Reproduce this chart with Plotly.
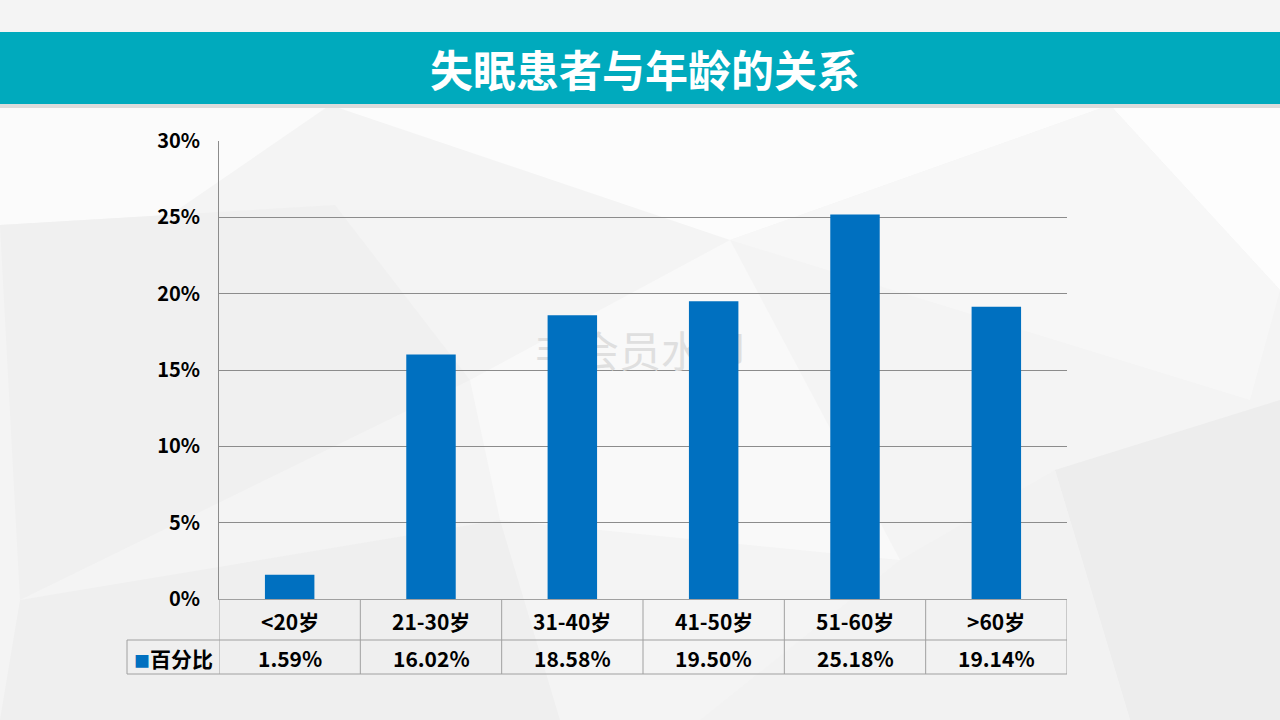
import plotly.graph_objects as go

# data
age_groups = ['<20岁', '21-30岁', '31-40岁', '41-50岁', '51-60岁', '>60岁']
pct_values = [1.59, 16.02, 18.58, 19.50, 25.18, 19.14]
pct_labels = ['1.59%', '16.02%', '18.58%', '19.50%', '25.18%', '19.14%']
series_name = '百分比'
title_text = '失眠患者与年龄的关系'
watermark = '非会员水印'

W, H = 1280, 720
L, R, T, B = 219, 1067, 141, 599
FONT = 'Noto Sans CJK SC'


def px(x):
    return (x - L) / (R - L)


def py(y):
    return (B - y) / (B - T)


def poly(points, color, opacity=1.0):
    path = 'M ' + ' L '.join(f'{px(a):.4f},{py(b):.4f}' for a, b in points) + ' Z'
    return dict(type='path', xref='paper', yref='paper', path=path,
                fillcolor=color, line=dict(width=0), opacity=opacity, layer='below')


fig = go.Figure()
# watermark sits on the base subplot so the bars (overlay subplot) cover it
fig.add_trace(go.Scatter(
    x=[px(640)], y=[30 * py(356)], mode='text', text=[watermark],
    textposition='middle center', hoverinfo='skip',
    textfont=dict(family=FONT, size=42, color='#DFDFDF'),
))
fig.add_trace(go.Bar(
    x=age_groups, y=pct_values, name=series_name, xaxis='x2', yaxis='y2',
    marker=dict(color='#0070C0', line=dict(width=0)),
    width=0.35, hoverinfo='x+y',
))

shapes = []
# background facets
shapes.append(poly([(0, 0), (1280, 0), (1280, 720), (0, 720)], '#F4F4F4'))
shapes.append(poly([(0, 105), (330, 105), (170, 215), (0, 225)], '#FBFBFB'))
shapes.append(poly([(330, 105), (1110, 105), (730, 240)], '#FCFCFC'))
shapes.append(poly([(1110, 105), (1280, 105), (1280, 290)], '#FDFDFD'))
shapes.append(poly([(0, 225), (335, 205), (470, 380), (20, 600)], '#F0F0F0'))
shapes.append(poly([(730, 240), (1110, 105), (1280, 290), (1250, 400)], '#F7F7F7'))
shapes.append(poly([(470, 380), (730, 240), (900, 560), (500, 520)], '#F9F9F9'))
shapes.append(poly([(20, 600), (500, 520), (560, 720), (0, 720)], '#EFEFEF'))
shapes.append(poly([(1055, 470), (1280, 400), (1280, 720), (1130, 720)], '#EDEDED'))
shapes.append(poly([(900, 560), (1055, 470), (1130, 720), (700, 720)], '#F2F2F2'))

# title banner
shapes.append(poly([(0, 104), (1280, 104), (1280, 108), (0, 108)], '#DCDCDC'))
shapes.append(poly([(0, 32), (1280, 32), (1280, 104), (0, 104)], '#00AABD'))

# data table lines
grid = '#A0A0A0'
y_row1, y_row2, y_row3 = py(599), py(640), py(674)
shapes.append(dict(type='line', xref='paper', yref='paper', x0=px(127), x1=1,
                   y0=y_row2, y1=y_row2, line=dict(color=grid, width=1)))
shapes.append(dict(type='line', xref='paper', yref='paper', x0=px(127), x1=1,
                   y0=y_row3, y1=y_row3, line=dict(color=grid, width=1)))
shapes.append(dict(type='line', xref='paper', yref='paper', x0=px(127), x1=px(127),
                   y0=y_row2, y1=y_row3, line=dict(color=grid, width=1)))
for i in range(len(age_groups) + 1):
    shapes.append(dict(type='line', xref='x2', yref='paper', x0=i - 0.5, x1=i - 0.5,
                       y0=y_row1, y1=y_row3, line=dict(color=grid, width=1)))

cell_font = dict(family=FONT, size=21, color='black', weight='bold')
annotations = []
annotations.append(dict(text=title_text, xref='paper', yref='paper', x=px(645), y=py(68),
                        xanchor='center', yanchor='middle', showarrow=False,
                        font=dict(family=FONT, size=43, color='white', weight='bold')))
for i, (cat, lab) in enumerate(zip(age_groups, pct_labels)):
    annotations.append(dict(text=cat, xref='x2', yref='paper', x=i, y=py(621),
                            xanchor='center', yanchor='middle', showarrow=False,
                            font=cell_font))
    annotations.append(dict(text=lab, xref='x2', yref='paper', x=i, y=py(658),
                            xanchor='center', yanchor='middle', showarrow=False,
                            font=cell_font))
annotations.append(dict(text='<span style="color:#0070C0;font-size:16px">■</span>' + series_name,
                        xref='paper', yref='paper', x=px(132), y=py(658),
                        xanchor='left', yanchor='middle', showarrow=False, font=cell_font))

fig.update_layout(
    width=W, height=H,
    margin=dict(l=L, r=W - R, t=T, b=H - B),
    paper_bgcolor='#F4F4F4', plot_bgcolor='rgba(0,0,0,0)',
    showlegend=False, bargap=0.65,
    shapes=shapes, annotations=annotations,
    xaxis=dict(range=[0, 1], visible=False, fixedrange=True),
    yaxis=dict(range=[0, 30], dtick=5, ticksuffix='%', showgrid=True, gridcolor='#8C8C8C',
               gridwidth=1, zeroline=False, showline=True, linecolor='#8C8C8C', linewidth=1,
               ticks='', ticklabelstandoff=14,
               tickfont=dict(family=FONT, size=20, color='black', weight='bold')),
    xaxis2=dict(overlaying='x', showticklabels=False, showgrid=False, ticks='',
                zeroline=False, showline=True, linecolor=grid, linewidth=1,
                range=[-0.5, 5.5]),
    yaxis2=dict(overlaying='y', range=[0, 30], visible=False, showgrid=False),
)

fig.write_html('out.html', config={'displayModeBar': False},
               post_script="document.body.style.margin='0';")
